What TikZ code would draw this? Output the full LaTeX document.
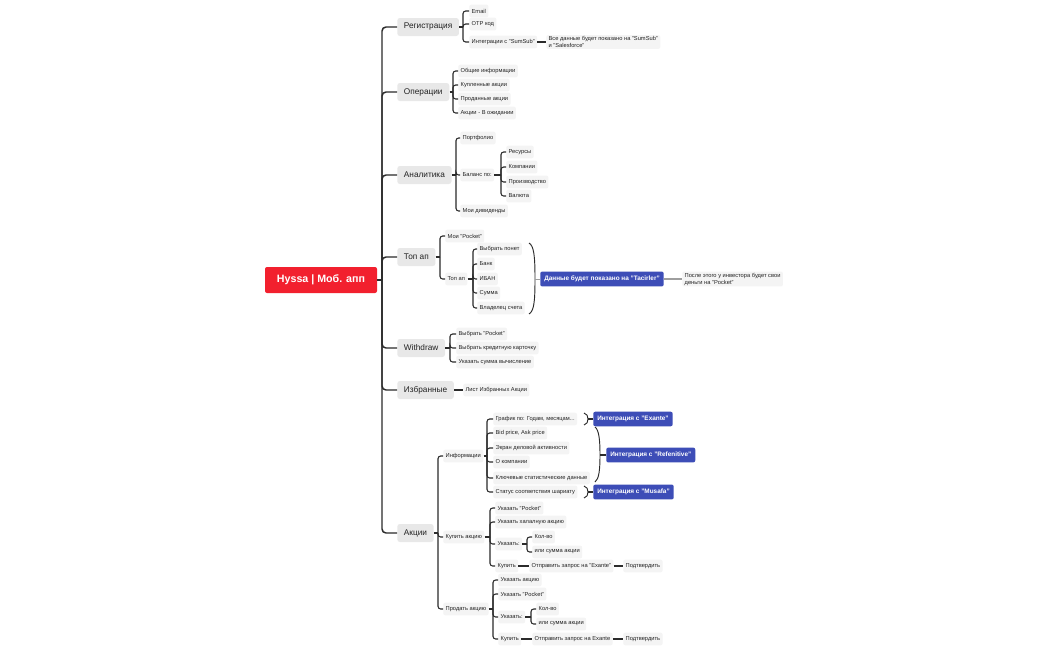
\documentclass[tikz,border=0pt]{standalone}
\usepackage{fontspec}
\setmainfont{Liberation Sans}
\definecolor{rootred}{HTML}{F2202E}
\definecolor{l1gray}{HTML}{E8E8E8}
\definecolor{leafgray}{HTML}{F4F4F4}
\definecolor{blueb}{HTML}{3D4DB7}
\definecolor{lineclr}{HTML}{2B2B2B}
\definecolor{txt}{HTML}{222222}
\definecolor{notegray}{HTML}{9E9E9E}
\begin{document}
\begin{tikzpicture}[x=0.75pt,y=-0.75pt,
 conn/.style={draw=lineclr, line width=0.8pt, rounded corners=2pt},
 trunk/.style={draw=lineclr, line width=1.1pt, rounded corners=3pt},
 rootn/.style={fill=rootred, text=white, font=\bfseries\fontsize{8}{9}\selectfont, rounded corners=1.5pt, minimum width=84pt, minimum height=19.5pt, inner sep=0pt},
 l1/.style={fill=l1gray, text=txt, font=\fontsize{6.2}{7}\selectfont, rounded corners=2pt, minimum height=13.5pt, inner xsep=5pt, anchor=west},
 leaf/.style={fill=leafgray, text=txt, font=\fontsize{4.3}{5.2}\selectfont, rounded corners=1.5pt, minimum height=9.5pt, inner xsep=1.8pt, inner ysep=1pt, anchor=west},
 bluen/.style={fill=blueb, text=white, font=\bfseries\fontsize{4.8}{5.5}\selectfont, rounded corners=1.5pt, minimum height=9.5pt, inner xsep=3pt, anchor=west},
 bracecurve/.style={draw=lineclr, line width=0.7pt},
]
\useasboundingbox (0,0) rectangle (1050,650);
\fill[white] (0,0) rectangle (1050,650);

% root and level 1
\node[rootn] (root) at (321,280) {Hyssa | Моб. апп};
\node[l1] (reg) at (397,27) {Регистрация};
\node[l1] (ops) at (397,92) {Операции};
\node[l1] (ana) at (397,175) {Аналитика};
\node[l1] (top) at (397,257) {Топ ап};
\node[l1] (wd) at (397,348) {Withdraw};
\node[l1] (fav) at (397,390) {Избранные};
\node[l1] (stk) at (397,533) {Акции};
\coordinate (tj) at (382,280);
\draw[trunk] (root.east) -- (tj);
\foreach \n in {reg,ops,ana,top,wd,fav,stk} \draw[trunk] (tj) |- (\n.west);

% Registration
\node[leaf] (r1) at (469,11) {Email};
\node[leaf] (r2) at (469,24) {OTP код};
\node[leaf] (r3) at (469,42) {Интеграции с "SumSub"};
\node[leaf, align=left] (r3a) at (546,42) {Все данные будет показано на "SumSub"\\и "Salesforce"};
\coordinate (regj) at (463,27);
\draw[conn] (reg.east) -- (regj);
\foreach \n in {r1,r2,r3} \draw[conn] (regj) |- (\n.west);
\draw[conn] (r3.east) -- (r3a.west);

% Operations
\node[leaf] (o1) at (458,71) {Общие информации};
\node[leaf] (o2) at (458,85) {Купленные акции};
\node[leaf] (o3) at (458,99) {Проданные акции};
\node[leaf] (o4) at (458,113) {Акции - В ожидании};
\coordinate (opsj) at (453,92);
\draw[conn] (ops.east) -- (opsj);
\foreach \n in {o1,o2,o3,o4} \draw[conn] (opsj) |- (\n.west);

% Analytics
\node[leaf] (a1) at (460,138) {Портфолио};
\node[leaf] (a2) at (460,175) {Баланс по:};
\node[leaf] (a3) at (460,211) {Мои дивиденды};
\coordinate (anaj) at (456,175);
\draw[conn] (ana.east) -- (anaj);
\foreach \n in {a1,a2,a3} \draw[conn] (anaj) |- (\n.west);
\node[leaf] (b1) at (506,152) {Ресурсы};
\node[leaf] (b2) at (506,167) {Компании};
\node[leaf] (b3) at (506,182) {Производство};
\node[leaf] (b4) at (506,196) {Валюта};
\coordinate (a2j) at (501,175);
\draw[conn] (a2.east) -- (a2j);
\foreach \n in {b1,b2,b3,b4} \draw[conn] (a2j) |- (\n.west);

% Top up
\node[leaf] (t1) at (445,236) {Мои "Pocket"};
\node[leaf] (t2) at (445,279) {Топ ап};
\coordinate (topj) at (440,257);
\draw[conn] (top.east) -- (topj);
\foreach \n in {t1,t2} \draw[conn] (topj) |- (\n.west);
\node[leaf] (u1) at (477,249) {Выбрать понет};
\node[leaf] (u2) at (477,264) {Банк};
\node[leaf] (u3) at (477,279) {ИБАН};
\node[leaf] (u4) at (477,293) {Сумма};
\node[leaf] (u5) at (477,308) {Владелец счета};
\coordinate (t2j) at (473,279);
\draw[conn] (t2.east) -- (t2j);
\foreach \n in {u1,u2,u3,u4,u5} \draw[conn] (t2j) |- (\n.west);
\draw[bracecurve] (529,243) .. controls (534,246) and (535,256) .. (535,279) .. controls (535,302) and (534,311) .. (529,314);
\coordinate (tb) at (535,279);
\node[bluen] (tac) at (540,279) {Данные будет показано на "Tacirler"};
\node[leaf, align=left] (note) at (682,279) {После этого у инвестора будет свои\\деньги на "Pocket"};
\draw[draw=notegray, line width=0.6pt] (tb) -- (tac.west);
\draw[draw=notegray, line width=1.1pt] (tac.east) -- (note.west);

% Withdraw
\node[leaf] (w1) at (456,334) {Выбрать "Pocket"};
\node[leaf] (w2) at (456,348) {Выбрать кредитную карточку};
\node[leaf] (w3) at (456,362) {Указать сумма вычисление};
\coordinate (wdj) at (450,348);
\draw[conn] (wd.east) -- (wdj);
\foreach \n in {w1,w2,w3} \draw[conn] (wdj) |- (\n.west);

% Favorites
\node[leaf] (f1) at (463,390) {Лист Избранных Акции};
\draw[conn] (fav.east) -- (f1.west);

% Stocks
\node[leaf] (s1) at (443,456) {Информации};
\node[leaf] (s2) at (443,537) {Купить акцию};
\node[leaf] (s3) at (443,609) {Продать акцию};
\coordinate (stkj) at (438,533);
\draw[conn] (stk.east) -- (stkj);
\foreach \n in {s1,s2,s3} \draw[conn] (stkj) |- (\n.west);

\node[leaf] (i1) at (493,419) {График по: Годам, месяцам...};
\node[leaf] (i2) at (493,433) {Bid price, Ask price};
\node[leaf] (i3) at (493,448) {Экран деловой активности};
\node[leaf] (i4) at (493,462) {О компании};
\node[leaf] (i5) at (493,478) {Ключевые статистические данные};
\node[leaf] (i6) at (493,492) {Статус соответствия шариату};
\coordinate (s1j) at (487,456);
\draw[conn] (s1.east) -- (s1j);
\foreach \n in {i1,i2,i3,i4,i5,i6} \draw[conn] (s1j) |- (\n.west);

\node[bluen] (ex) at (593,419) {Интеграция с "Exante"};
\node[bluen] (rf) at (606,455) {Интеграция с "Refenitive"};
\node[bluen] (mu) at (593,492) {Интеграция с "Musafa"};
\draw[bracecurve] (584,413) .. controls (587,414) and (588,416) .. (588,419) .. controls (588,422) and (587,424) .. (584,425);
\coordinate (exb) at (588,419);
\draw[conn] (exb) -- (ex.west);
\draw[bracecurve] (595,427) .. controls (599,430) and (600,440) .. (600,455) .. controls (600,470) and (599,479) .. (595,482);
\coordinate (rfb) at (600,455);
\draw[conn] (rfb) -- (rf.west);
\draw[bracecurve] (584,486) .. controls (587,487) and (588,489) .. (588,492) .. controls (588,495) and (587,497) .. (584,498);
\coordinate (mub) at (588,492);
\draw[conn] (mub) -- (mu.west);

% Buy
\node[leaf] (p1) at (495,508) {Указать "Pocket"};
\node[leaf] (p2) at (495,522) {Указать халалную акцию};
\node[leaf] (p3) at (495,544) {Указать:};
\node[leaf] (p4) at (495,566) {Купить};
\coordinate (s2j) at (490,537);
\draw[conn] (s2.east) -- (s2j);
\foreach \n in {p1,p2,p3,p4} \draw[conn] (s2j) |- (\n.west);
\node[leaf] (q1) at (532,537) {Кол-во};
\node[leaf] (q2) at (532,552) {или сумма акции};
\coordinate (p3j) at (527,544);
\draw[conn] (p3.east) -- (p3j);
\foreach \n in {q1,q2} \draw[conn] (p3j) |- (\n.west);
\node[leaf] (p5) at (529,566) {Отправить запрос на "Exante"};
\node[leaf] (p6) at (623,566) {Подтвердить};
\draw[conn] (p4.east) -- (p5.west);
\draw[conn] (p5.east) -- (p6.west);

% Sell
\node[leaf] (d1) at (498,580) {Указать акцию};
\node[leaf] (d2) at (498,594) {Указать "Pocket"};
\node[leaf] (d3) at (498,617) {Указать:};
\node[leaf] (d4) at (498,639) {Купить};
\coordinate (s3j) at (493,609);
\draw[conn] (s3.east) -- (s3j);
\foreach \n in {d1,d2,d3,d4} \draw[conn] (s3j) |- (\n.west);
\node[leaf] (e1) at (536,609) {Кол-во};
\node[leaf] (e2) at (536,624) {или сумма акции};
\coordinate (d3j) at (531,617);
\draw[conn] (d3.east) -- (d3j);
\foreach \n in {e1,e2} \draw[conn] (d3j) |- (\n.west);
\node[leaf] (d5) at (532,639) {Отправить запрос на Exante};
\node[leaf] (d6) at (623,639) {Подтвердить};
\draw[conn] (d4.east) -- (d5.west);
\draw[conn] (d5.east) -- (d6.west);
\end{tikzpicture}
\end{document}
